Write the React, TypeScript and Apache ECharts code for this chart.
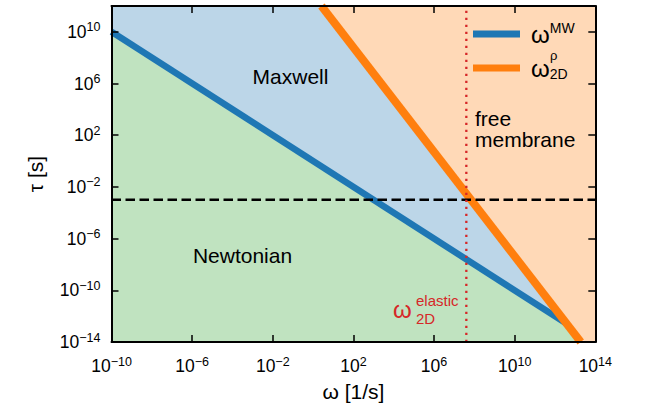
import React, { useEffect, useRef } from 'react';
import * as echarts from 'echarts';

const FONT = '"Liberation Sans", Arial, Helvetica, sans-serif';

// axis ranges (data units) and tick step in decades
const omegaRange = [1e-10, 1e14];
const tauRange = [1e-14, 1e12];
const tickStep = 4;

// omega^MW line: tau = 1/omega
const mwOmega = [1e-10, 3.7e12];
const mwTau = [1e10, 2.7e-13];
// omega_2D^rho line
const rhoOmega = [2.6, 1.9e13];
const rhoTau = [1e12, 1e-14];
// reference lines
const tauDashed = 1e-3;
const omegaElastic = 4e7;

const BLUE = '#1f77b4';
const ORANGE = '#ff7f0e';
const RED = '#d62728';
const FILL_GREEN = '#c0e3c0';
const FILL_BLUE = '#bcd6e8';
const FILL_ORANGE = '#ffd9b7';

const newtonianRegion = [
  [omegaRange[0], tauRange[0]],
  [mwOmega[0], mwTau[0]],
  [mwOmega[1], mwTau[1]],
  [rhoOmega[1], rhoTau[1]],
];
const maxwellRegion = [
  [mwOmega[0], mwTau[0]],
  [omegaRange[0], tauRange[1]],
  [rhoOmega[0], rhoTau[0]],
  [mwOmega[1], mwTau[1]],
];
const membraneRegion = [
  [rhoOmega[0], rhoTau[0]],
  [omegaRange[1], tauRange[1]],
  [omegaRange[1], tauRange[0]],
  [rhoOmega[1], rhoTau[1]],
];

function polySeries(name: string, pts: number[][], color: string) {
  return {
    type: 'custom',
    name,
    xAxisIndex: 0,
    yAxisIndex: 0,
    silent: true,
    clip: true,
    z: 1,
    encode: { x: 0, y: 1 },
    data: pts,
    renderItem: (params: any, api: any) => {
      if (params.dataIndex !== 0) return null;
      return {
        type: 'polygon',
        shape: { points: pts.map((p) => api.coord(p)) },
        style: { fill: color },
      };
    },
  };
}

const tickFmt = (v: number) => {
  const e = Math.round(Math.log10(v));
  return `{b|10}{s|${e < 0 ? '\u2212' : ''}${Math.abs(e)}}`;
};

const tickRich = {
  b: { fontSize: 17.5, fontFamily: FONT, color: '#000', lineHeight: 22 },
  s: { fontSize: 12.5, fontFamily: FONT, color: '#000', lineHeight: 12, verticalAlign: 'top' },
};

const axisLine = { show: true, onZero: false, lineStyle: { color: '#000', width: 2 } };
const axisTick = { show: true, inside: true, length: 7, lineStyle: { color: '#000', width: 1.5 } };

export default function App() {
  const ref = useRef<HTMLDivElement>(null);
  useEffect(() => {
    if (!ref.current) return;
    const chart = echarts.init(ref.current, undefined, { renderer: 'svg' });
    const option: any = {
      animation: false,
      backgroundColor: '#fff',
      grid: { left: 111.5, right: 53.7, top: 6, bottom: 66 },
      xAxis: [
        {
          type: 'log',
          logBase: 10,
          min: omegaRange[0],
          max: omegaRange[1],
          interval: tickStep,
          position: 'bottom',
          z: 10,
          axisLine,
          axisTick,
          splitLine: { show: false },
          axisLabel: { interval: 0, margin: 13, formatter: tickFmt, rich: tickRich },
          name: 'ω [1/s]',
          nameLocation: 'middle',
          nameGap: 39,
          nameTextStyle: { fontSize: 21, fontFamily: FONT, color: '#000' },
        },
        {
          type: 'log',
          logBase: 10,
          min: omegaRange[0],
          max: omegaRange[1],
          interval: tickStep,
          position: 'top',
          z: 10,
          axisLine,
          axisTick,
          splitLine: { show: false },
          axisLabel: { show: false },
        },
      ],
      yAxis: [
        {
          type: 'log',
          logBase: 10,
          min: tauRange[0],
          max: tauRange[1],
          interval: tickStep,
          position: 'left',
          z: 10,
          axisLine,
          axisTick,
          splitLine: { show: false },
          axisLabel: { interval: 0, margin: 11, showMaxLabel: false, formatter: tickFmt, rich: tickRich },
          name: 'τ [s]',
          nameLocation: 'middle',
          nameGap: 66,
          nameTextStyle: { fontSize: 21, fontFamily: FONT, color: '#000' },
        },
        {
          type: 'log',
          logBase: 10,
          min: tauRange[0],
          max: tauRange[1],
          interval: tickStep,
          position: 'right',
          z: 10,
          axisLine,
          axisTick,
          splitLine: { show: false },
          axisLabel: { show: false },
        },
      ],
      legend: {
        orient: 'vertical',
        left: 468,
        top: 16,
        itemWidth: 47,
        itemHeight: 7,
        itemGap: 10,
        icon: 'rect',
        selectedMode: false,
        z: 20,
        data: ['MW', 'rho'],
        formatter: (name: string) => (name === 'MW' ? '{w|ω}{sup|MW}' : '{w|ω}{sub|2D}'),
        textStyle: {
          padding: [0, 0, 0, 6],
          rich: {
            w: { fontSize: 24, fontFamily: FONT, color: '#000', lineHeight: 26 },
            sup: { fontSize: 14, fontFamily: FONT, color: '#000', lineHeight: 14, verticalAlign: 'top' },
            sub: { fontSize: 14, fontFamily: FONT, color: '#000', lineHeight: 14, verticalAlign: 'bottom' },
          },
        },
      },
      graphic: [
        { type: 'text', z: 50, x: 550, y: 55, style: { text: 'ρ', fontSize: 13, fontFamily: FONT, fill: '#000', verticalAlign: 'middle' } },
        { type: 'text', z: 50, x: 290.5, y: 76.7, style: { text: 'Maxwell', fontSize: 21, fontFamily: FONT, fill: '#000', align: 'center', verticalAlign: 'middle' } },
        { type: 'text', z: 50, x: 242.5, y: 255.7, style: { text: 'Newtonian', fontSize: 21, fontFamily: FONT, fill: '#000', align: 'center', verticalAlign: 'middle' } },
        { type: 'text', z: 50, x: 475, y: 108, style: { text: 'free\nmembrane', fontSize: 21, lineHeight: 21, fontFamily: FONT, fill: '#000', align: 'left', verticalAlign: 'top' } },
        { type: 'text', z: 50, x: 393, y: 309, style: { text: 'ω', fontSize: 24, fontFamily: FONT, fill: RED, align: 'left', verticalAlign: 'middle' } },
        { type: 'text', z: 50, x: 416, y: 300.5, style: { text: 'elastic', fontSize: 15, fontFamily: FONT, fill: RED, align: 'left', verticalAlign: 'middle' } },
        { type: 'text', z: 50, x: 416, y: 318.5, style: { text: '2D', fontSize: 15, fontFamily: FONT, fill: RED, align: 'left', verticalAlign: 'middle' } },
      ],
      series: [
        polySeries('Newtonian region', newtonianRegion, FILL_GREEN),
        polySeries('Maxwell region', maxwellRegion, FILL_BLUE),
        polySeries('membrane region', membraneRegion, FILL_ORANGE),
        {
          type: 'line',
          name: 'MW',
          data: mwOmega.map((w, i) => [w, mwTau[i]]),
          showSymbol: false,
          symbol: 'none',
          color: BLUE,
          itemStyle: { color: BLUE },
          lineStyle: { color: BLUE, width: 6.5 },
          z: 3,
          silent: true,
        },
        {
          type: 'line',
          name: 'rho',
          data: rhoOmega.map((w, i) => [w, rhoTau[i]]),
          showSymbol: false,
          symbol: 'none',
          color: ORANGE,
          itemStyle: { color: ORANGE },
          lineStyle: { color: ORANGE, width: 8 },
          z: 4,
          silent: true,
        },
        {
          type: 'line',
          name: 'tau dashed',
          data: [[omegaRange[0], tauDashed], [omegaRange[1], tauDashed]],
          showSymbol: false,
          symbol: 'none',
          lineStyle: { color: '#000', width: 2.5, type: [9.5, 4.5] },
          z: 5,
          silent: true,
        },
        {
          type: 'line',
          name: 'elastic',
          data: [[omegaElastic, tauRange[0]], [omegaElastic, tauRange[1]]],
          showSymbol: false,
          symbol: 'none',
          lineStyle: { color: RED, width: 2.3, type: [2.3, 4.7] },
          z: 5,
          silent: true,
        },
      ],
    };
    chart.setOption(option);
    return () => chart.dispose();
  }, []);
  return <div ref={ref} style={{ position: 'fixed', left: 0, top: 0, width: 649, height: 408 }} />;
}
